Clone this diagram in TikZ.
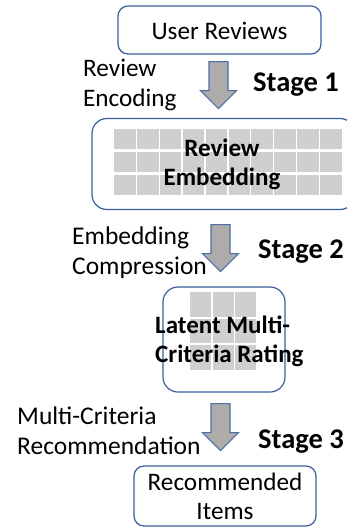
\documentclass[tikz,border=0pt]{standalone}
\usepackage{fontspec}
\setmainfont{Carlito}
\usetikzlibrary{calc}
\definecolor{boxblue}{HTML}{3B5E9C}
\definecolor{arrblue}{HTML}{4A6FA5}
\definecolor{arrgray}{HTML}{AEABAB}
\definecolor{cellgray}{HTML}{D0CECE}
\newcommand\tlc[2]{\vtop{\halign{\hfil##\hfil\cr#1\cr#2\cr}}}
\newcommand\tll[2]{\vtop{\halign{##\hfil\cr#1\cr#2\cr}}}
\newcommand\blockarrow[1]{\draw[barrow] (#1) ++(-9.5,0) -- ++(19,0) -- ++(0,29) -- ++(8.5,0) -- ++(-18,18) -- ++(-18,-18) -- ++(8.5,0) -- cycle;}
\begin{document}
\begin{tikzpicture}[x=1pt,y=-1pt,
  box/.style={draw=boxblue,line width=1.2pt,rounded corners=#1,inner sep=0pt,fill=white},
  box/.default=10pt,
  lbl/.style={inner sep=0pt,font=\fontsize{25.2}{29}\selectfont},
  lblw/.style={inner sep=0pt,font=\fontsize{25.5}{30}\selectfont},
  bl/.style={inner sep=0pt,font=\fontsize{25}{29.5}\selectfont\bfseries},
  stage/.style={inner sep=0pt,font=\fontsize{28.5}{33}\selectfont\bfseries},
  barrow/.style={draw=arrblue,fill=arrgray,line width=1.1pt,line join=miter},
  cell/.style={fill=cellgray}
]
\useasboundingbox (0,0) rectangle (347,527);
\clip (0,0) rectangle (347,527);
\fill[white] (0,0) rectangle (347,527);

% boxes
\node[box=10pt, minimum width=203pt, minimum height=48pt] (ur) at (219.5,30) {};
\node[box=15pt, minimum width=263pt, minimum height=91pt] (emb) at (223.5,164) {};
\node[box=15pt, minimum width=122pt, minimum height=105pt] (lat) at (224,339.5) {};
\node[box=10pt, minimum width=182pt, minimum height=60pt] (rec) at (225,496) {};

% grid cells
\foreach \i in {0,...,9}
  \foreach \yy/\hh in {129/20,152/20,174.5/20}
    \fill[cell] (114+\i*22.9,\yy) rectangle ++(21.6,\hh);
\foreach \i in {0,1,2}
  \foreach \yy in {292,318.5,345}
    \fill[cell] (190+\i*22.5,\yy) rectangle ++(21.2,24.5);

% texts in boxes
\node[lbl, anchor=base] (urt) at (219.5,39.3) {User Reviews};
\node[bl, anchor=base] (embt) at (222,156) {\tlc{Review}{Embedding}};
\node[bl, anchor=base west] (latt) at (155,333) {\tll{Latent Multi-}{Criteria Rating}};
\node[lbl, anchor=base] (rect) at (225,490) {\tlc{Recommended}{Items}};

% block arrows
\path ($(ur.south)+(-1,7)$) coordinate (a1);
\path ($(emb.south)+(-3,14.5)$) coordinate (a2);
\path ($(lat.south)+(-3.5,11)$) coordinate (a3);
\blockarrow{a1}
\blockarrow{a2}
\blockarrow{a3}

% labels
\node[lbl, anchor=base west] (l1) at (83,77) {\tll{Review}{Encoding}};
\node[lblw, anchor=base west] (l2) at (72,244) {\tll{Embedding}{Compression}};
\node[lblw, anchor=base west] (l3) at (17,424) {\tll{Multi-Criteria}{Recommendation}};
\node[stage, anchor=base west] (s1) at (253,91) {Stage 1};
\node[stage, anchor=base west] (s2) at (258,258) {Stage 2};
\node[stage, anchor=base west] (s3) at (258,448) {Stage 3};
\end{tikzpicture}
\end{document}
